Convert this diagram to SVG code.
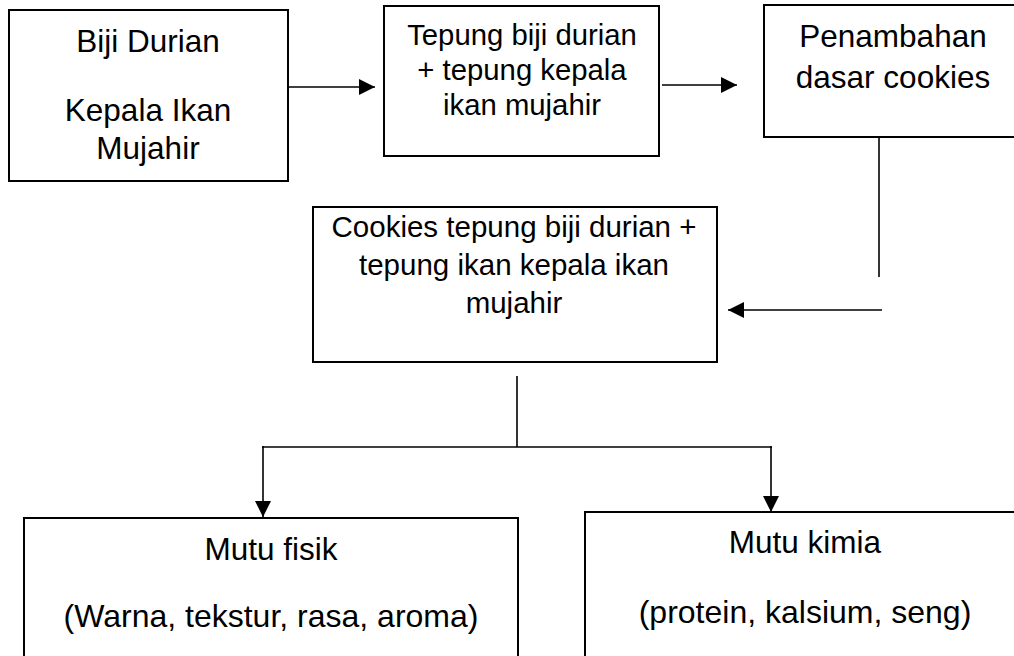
<svg xmlns="http://www.w3.org/2000/svg" width="1014" height="656" viewBox="0 0 1014 656">
<style>
.box{fill:#fff;stroke:#000;stroke-width:2}
.t{font-family:"Liberation Sans",Arial,sans-serif;fill:#000;text-anchor:middle}
.c{stroke:#000;stroke-width:1.6;fill:none}
</style>
<defs>
<marker id="ah" markerUnits="userSpaceOnUse" markerWidth="16" markerHeight="16" viewBox="0 0 15 15" refX="15" refY="7.5" orient="auto">
<path d="M0,0 L15,7.5 L0,15 Z" fill="#000"/>
</marker>
</defs>
<rect width="1014" height="656" fill="#fff"/>
<g id="connectors">
<line class="c" x1="288" y1="87" x2="375" y2="87" marker-end="url(#ah)"/>
<line class="c" x1="662" y1="85" x2="737" y2="85" marker-end="url(#ah)"/>
<line class="c" x1="879" y1="137" x2="879" y2="277"/>
<line class="c" x1="882" y1="310" x2="728" y2="310" marker-end="url(#ah)"/>
<line class="c" x1="517" y1="376" x2="517" y2="447"/>
<line class="c" x1="262" y1="447" x2="772" y2="447"/>
<line class="c" x1="263" y1="446" x2="263" y2="517" marker-end="url(#ah)"/>
<line class="c" x1="771" y1="446" x2="771" y2="512" marker-end="url(#ah)"/>
</g>
<g id="n1">
<rect class="box" x="9" y="10" width="279" height="171"/>
<text class="t" font-size="31.5" x="148" y="52">Biji Durian</text>
<text class="t" font-size="31.5" x="148" y="121">Kepala Ikan</text>
<text class="t" font-size="31.5" x="148" y="159">Mujahir</text>
</g>
<g id="n2">
<rect class="box" x="384" y="6" width="275" height="150"/>
<text class="t" font-size="29.3" x="522" y="45">Tepung biji durian</text>
<text class="t" font-size="29.3" x="522" y="80">+ tepung kepala</text>
<text class="t" font-size="29.3" x="522" y="115">ikan mujahir</text>
</g>
<g id="n3">
<rect class="box" x="764" y="5" width="258" height="132"/>
<text class="t" font-size="31.5" x="893" y="47">Penambahan</text>
<text class="t" font-size="31.5" x="893" y="88">dasar cookies</text>
</g>
<g id="n4">
<rect class="box" x="313" y="207" width="404" height="155"/>
<text class="t" font-size="29.5" x="514" y="237">Cookies tepung biji durian +</text>
<text class="t" font-size="29.5" x="514" y="275">tepung ikan kepala ikan</text>
<text class="t" font-size="29.5" x="514" y="313">mujahir</text>
</g>
<g id="n5">
<rect class="box" x="24" y="518" width="494" height="160"/>
<text class="t" font-size="31.5" x="271" y="560">Mutu fisik</text>
<text class="t" font-size="32" x="271" y="627">(Warna, tekstur, rasa, aroma)</text>
</g>
<g id="n6">
<rect class="box" x="585" y="512" width="438" height="166"/>
<text class="t" font-size="31.5" x="805" y="553">Mutu kimia</text>
<text class="t" font-size="32" x="805" y="623">(protein, kalsium, seng)</text>
</g>
</svg>
